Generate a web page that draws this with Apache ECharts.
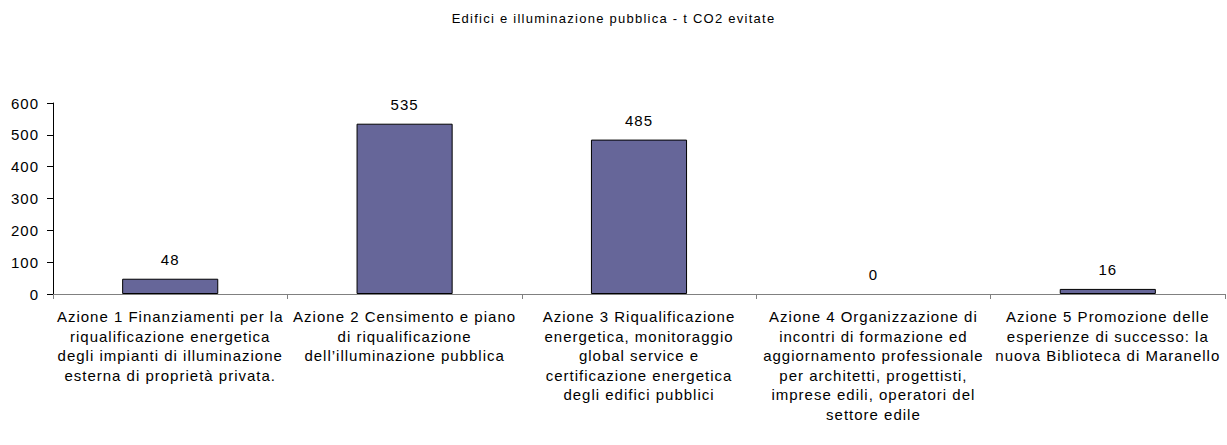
<!DOCTYPE html>
<html>
<head>
<meta charset="utf-8">
<script src="https://cdn.jsdelivr.net/npm/echarts@6/dist/echarts.min.js"></script>
<style>
  html, body { margin: 0; padding: 0; background: #fff; }
  #chart { width: 1227px; height: 445px; }
  /* slightly open tracking for all chart text */
  #chart svg text { letter-spacing: 1px; }
  #chart svg text.chart-title { letter-spacing: 1.25px; }
</style>
</head>
<body>
<div id="chart"></div>
<script>
// Titolo del grafico
const chartTitle = 'Edifici e illuminazione pubblica - t CO2 evitate';

// Azioni (etichette dell'asse delle categorie, già spezzate su più righe)
const categories = [
  'Azione 1 Finanziamenti per la\nriqualificazione energetica\ndegli impianti di illuminazione\nesterna di proprietà privata.',
  'Azione 2 Censimento e piano\ndi riqualificazione\ndell\u2019illuminazione pubblica',
  'Azione 3 Riqualificazione\nenergetica, monitoraggio\nglobal service e\ncertificazione energetica\ndegli edifici pubblici',
  'Azione 4 Organizzazione di\nincontri di formazione ed\naggiornamento professionale\nper architetti, progettisti,\nimprese edili, operatori del\nsettore edile',
  'Azione 5 Promozione delle\nesperienze di successo: la\nnuova Biblioteca di Maranello'
];

// Tonnellate di CO2 evitate per ciascuna azione
const co2Avoided = [48, 535, 485, 0, 16];

// Asse dei valori
const yMin = 0;
const yMax = 600;
const yStep = 100;

const FONT = '"Liberation Sans", Arial, sans-serif';

const chart = echarts.init(document.getElementById('chart'), null, { renderer: 'svg' });

// a bar of height zero gets no outline, so the axis line stays clean
const barItems = co2Avoided.map(v => ({
  value: v,
  itemStyle: v === 0 ? { borderWidth: 0 } : {}
}));

chart.setOption({
  animation: false,
  backgroundColor: '#ffffff',
  title: {
    text: chartTitle,
    left: 'center',
    top: 7,
    textStyle: { fontFamily: FONT, fontSize: 13, fontWeight: 'normal', color: '#000' }
  },
  grid: { left: 53, right: 2, top: 103, bottom: 151, containLabel: false },
  xAxis: {
    type: 'category',
    data: categories,
    boundaryGap: true,
    axisLine: { show: true, lineStyle: { color: '#808080', width: 1 } },
    axisTick: { show: true, alignWithLabel: false, length: 5, lineStyle: { color: '#808080' } },
    axisLabel: {
      interval: 0,
      margin: 13,
      fontFamily: FONT,
      fontSize: 15,
      lineHeight: 19.5,
      color: '#000',
      align: 'center'
    },
    splitLine: { show: false }
  },
  yAxis: {
    type: 'value',
    min: yMin,
    max: yMax,
    interval: yStep,
    axisLine: { show: true, lineStyle: { color: '#000', width: 1 } },
    axisTick: { show: true, length: 6, lineStyle: { color: '#000' } },
    axisLabel: { margin: 14, fontFamily: FONT, fontSize: 15, color: '#000' },
    splitLine: { show: false }
  },
  series: [{
    type: 'bar',
    data: barItems,
    barWidth: '41%',
    itemStyle: { color: '#666699', borderColor: '#000', borderWidth: 1 },
    label: {
      show: true,
      position: 'top',
      distance: 12,
      fontFamily: FONT,
      fontSize: 15,
      color: '#000'
    }
  }]
});

// tag the title text node so it can take its own tracking
const svgTexts = document.querySelectorAll('#chart svg text');
svgTexts.forEach(t => {
  if (t.textContent === chartTitle) t.classList.add('chart-title');
});
</script>
</body>
</html>
